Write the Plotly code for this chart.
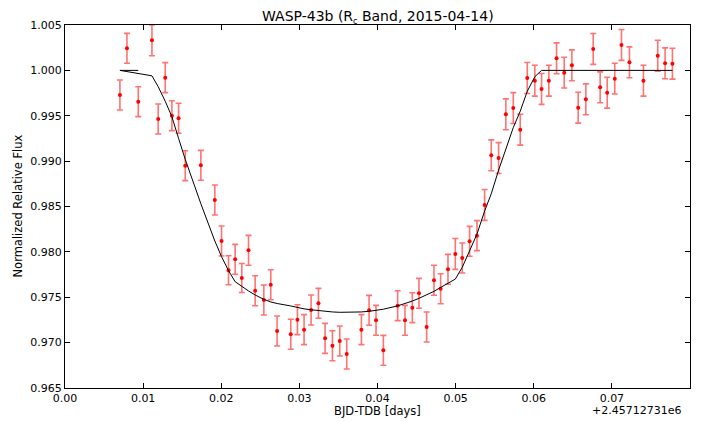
import plotly.graph_objects as go

# Observed data (time offset from 2457127.31 days)
time = [0.00703, 0.00793, 0.00938, 0.01113, 0.01193, 0.01283, 0.01368, 0.01454, 0.01539, 0.01739,
        0.01918, 0.02004, 0.02093, 0.02178, 0.02263, 0.02349, 0.02434, 0.02545, 0.02634, 0.02715,
        0.02890, 0.02975, 0.03060, 0.03150, 0.03244, 0.03329, 0.03423, 0.03517, 0.03606, 0.03794,
        0.03892, 0.03981, 0.04075, 0.04258, 0.04352, 0.04446, 0.04531, 0.04629, 0.04723, 0.04808,
        0.04902, 0.04996, 0.05085, 0.05179, 0.05273, 0.05371, 0.05456, 0.05550, 0.05643, 0.05738,
        0.05827, 0.05917, 0.06014, 0.06100, 0.06193, 0.06292, 0.06390, 0.06488, 0.06569, 0.06667,
        0.06761, 0.06850, 0.06940, 0.07037, 0.07123, 0.07225, 0.07404, 0.07587, 0.07681, 0.07775]
flux = [0.99729, 1.00243, 0.99655, 1.00331, 0.99464, 0.99920, 0.99501, 0.99472, 0.98950, 0.98954,
        0.98572, 0.98120, 0.97797, 0.97918, 0.97712, 0.98017, 0.97572, 0.97470, 0.97638, 0.97128,
        0.97092, 0.97253, 0.97143, 0.97360, 0.97433, 0.97047, 0.96966, 0.97018, 0.96875, 0.97143,
        0.97356, 0.97246, 0.96915, 0.97407, 0.97246, 0.97385, 0.97543, 0.97172, 0.97687, 0.97594,
        0.97808, 0.97977, 0.97932, 0.98116, 0.98179, 0.98517, 0.99064, 0.99034, 0.99516, 0.99585,
        0.99346, 0.99916, 0.99886, 0.99795, 0.99886, 1.00133, 0.99975, 1.00056, 0.99589, 0.99681,
        1.00236, 0.99813, 0.99754, 0.99909, 1.00280, 1.00089, 0.99886, 1.00162, 1.00078, 1.00074]
flux_err = [0.00165, 0.00165, 0.00165, 0.00170, 0.00165, 0.00165, 0.00165, 0.00165, 0.00165, 0.00165,
            0.00165, 0.00165, 0.00160, 0.00165, 0.00160, 0.00165, 0.00165, 0.00165, 0.00165, 0.00165,
            0.00165, 0.00165, 0.00165, 0.00165, 0.00165, 0.00165, 0.00165, 0.00165, 0.00165, 0.00165,
            0.00165, 0.00165, 0.00165, 0.00165, 0.00165, 0.00165, 0.00165, 0.00165, 0.00165, 0.00165,
            0.00165, 0.00170, 0.00165, 0.00165, 0.00165, 0.00170, 0.00170, 0.00170, 0.00170, 0.00170,
            0.00170, 0.00170, 0.00170, 0.00170, 0.00170, 0.00170, 0.00170, 0.00170, 0.00170, 0.00170,
            0.00170, 0.00170, 0.00170, 0.00170, 0.00170, 0.00170, 0.00170, 0.00170, 0.00170, 0.00170]

# Model light curve (evaluated at observation times, in recorded order)
model_time = [0.00938, 0.00793, 0.00703, 0.01113, 0.01193, 0.01283, 0.01368, 0.01454, 0.01539, 0.01739,
              0.01918, 0.02004, 0.02093, 0.02178, 0.02263, 0.02349, 0.02434, 0.02545, 0.02634, 0.02715,
              0.02890, 0.02975, 0.03060, 0.03150, 0.03244, 0.03329, 0.03423, 0.03517, 0.03606, 0.03794,
              0.03892, 0.03981, 0.04075, 0.04258, 0.04352, 0.04446, 0.04531, 0.04629, 0.04723, 0.04808,
              0.04902, 0.04996, 0.05085, 0.05179, 0.05273, 0.05371, 0.05456, 0.05550, 0.05643, 0.05738,
              0.05827, 0.05917, 0.06014, 0.06100, 0.06193, 0.06292, 0.06390, 0.06488, 0.06569, 0.06667,
              0.06761, 0.06850, 0.06940, 0.07037, 0.07123, 0.07225, 0.07404, 0.07587, 0.07681, 0.07775]
model_flux = [1.00000, 1.00000, 1.00000, 0.99940, 0.99820, 0.99660, 0.99490, 0.99250, 0.99020, 0.98530,
              0.98120, 0.97947, 0.97793, 0.97671, 0.97616, 0.97569, 0.97525, 0.97477, 0.97448, 0.97431,
              0.97404, 0.97384, 0.97372, 0.97362, 0.97352, 0.97344, 0.97338, 0.97334, 0.97333, 0.97338,
              0.97345, 0.97355, 0.97368, 0.97405, 0.97430, 0.97458, 0.97488, 0.97525, 0.97565, 0.97608,
              0.97655, 0.97700, 0.97830, 0.98010, 0.98195, 0.98450, 0.98640, 0.98900, 0.99130, 0.99370,
              0.99550, 0.99770, 0.99930, 1.00000, 1.00000, 1.00000, 1.00000, 1.00000, 1.00000, 1.00000,
              1.00000, 1.00000, 1.00000, 1.00000, 1.00000, 1.00000, 1.00000, 1.00000, 1.00000, 1.00000]

x_ticks = [0.00, 0.01, 0.02, 0.03, 0.04, 0.05, 0.06, 0.07, 0.08]
y_ticks = [0.965, 0.970, 0.975, 0.980, 0.985, 0.990, 0.995, 1.000, 1.005]

FONT = "DejaVu Sans"
OFF = 8  # page body margin offset
W, H = 702 - OFF, 421 - OFF
# target plot area in page pixels: x 65..690, y 25..388
L, T = 65 - OFF, 25 - OFF
R = W - (690 - OFF)
B = H - (388 - OFF)
PW, PH = W - L - R, H - T - B


def px_x(page_x):
    return (page_x - 65) / PW


def px_y(page_y):
    return (388 - page_y) / PH


fig = go.Figure()
fig.add_trace(go.Scatter(
    x=time, y=flux, mode="markers",
    marker=dict(color="red", size=4, symbol="circle"),
    error_y=dict(type="data", array=flux_err, visible=True,
                 color="rgba(255,0,0,0.55)", thickness=1.6, width=3),
    showlegend=False,
))
fig.add_trace(go.Scatter(
    x=model_time, y=model_flux, mode="lines",
    line=dict(color="black", width=1),
    showlegend=False,
))

axis_common = dict(
    showline=True, linecolor="black", linewidth=1, mirror="ticks",
    ticks="inside", ticklen=5, tickcolor="black", tickwidth=1,
    showgrid=False, zeroline=False, automargin=False,
    tickfont=dict(family=FONT, size=11, color="black"),
)

fig.update_xaxes(
    range=[0.0, 0.08], tickvals=x_ticks, ticktext=[f"{v:.2f}" for v in x_ticks],
    **axis_common,
)
fig.update_yaxes(
    range=[0.965, 1.005], tickvals=y_ticks, ticktext=[f"{v:.3f}" for v in y_ticks],
    **axis_common,
)

fig.update_layout(
    width=W, height=H,
    margin=dict(l=L, r=R, t=T, b=B),
    paper_bgcolor="white", plot_bgcolor="white",
    font=dict(family=FONT, color="black"),
)
# title
fig.add_annotation(
    text="WASP-43b (R<sub><span style='font-size:8px'>c</span></sub> Band, 2015-04-14)",
    xref="paper", yref="paper", x=0.5, y=px_y(16.5), xanchor="center", yanchor="middle",
    showarrow=False, font=dict(family=FONT, size=14, color="black"),
)
# y-axis label
fig.add_annotation(
    text="Normalized Relative Flux", xref="paper", yref="paper",
    x=px_x(17), y=0.5, xanchor="center", yanchor="middle", textangle=-90,
    showarrow=False, font=dict(family=FONT, size=11.5, color="black"),
)
# x-axis label
fig.add_annotation(
    text="BJD-TDB [days]", xref="paper", yref="paper",
    x=0.5, y=px_y(411), xanchor="center", yanchor="middle",
    showarrow=False, font=dict(family=FONT, size=11.5, color="black"),
)
# offset text
fig.add_annotation(
    text="+2.45712731e6", xref="paper", yref="paper",
    x=px_x(683), y=px_y(410), xanchor="right", yanchor="middle",
    showarrow=False, font=dict(family=FONT, size=11, color="black"),
)

fig.write_html("out.html")
